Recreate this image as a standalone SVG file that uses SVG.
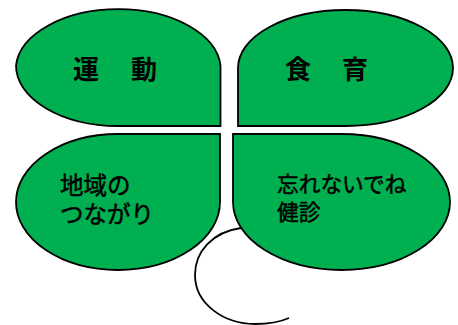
<svg xmlns="http://www.w3.org/2000/svg" width="458" height="325" viewBox="0 0 458 325">
<style>
.leaf{fill:#00b050;stroke:#000;stroke-width:1.8}
.stem{fill:none;stroke:#000;stroke-width:1.8}
text{font-family:"Liberation Sans","Noto Sans CJK JP",sans-serif;fill:#000}
.big{font-size:26px;font-weight:700}
.mid{font-size:23.500px;stroke:#000;stroke-width:.5}
.small{font-size:21.700px;stroke:#000;stroke-width:.5}
</style>
<g id="connectors">
<path class="stem" d="M241,228 C212,232 195,252 195,275 C195,304 224,324 255,324 C268,324 280,322 289,318"/>
</g>
<g id="node-undou">
<path class="leaf" d="M220.500,126 V65.500 A102.500,60.500 0 0 0 16,65.500 A102.500,60.500 0 0 0 118,126 Z"/>
<text class="big" x="73 102 131" y="79">運　動</text>
</g>
<g id="node-shokuiku">
<path class="leaf" d="M238,126 V68 A107.500,58 0 0 1 453,68 A107.500,58 0 0 1 345.500,126 Z"/>
<text class="big" x="285 314 342" y="79">食　育</text>
</g>
<g id="node-chiiki">
<path class="leaf" d="M220,134 V202 A102,68 0 0 1 16,202 A102,68 0 0 1 118,134 Z"/>
<text class="mid" x="60" y="194">地域の</text>
<text class="mid" x="60" y="223">つながり</text>
</g>
<g id="node-kenshin">
<path class="leaf" d="M233,134 H341.500 A108.500,68 0 0 1 341.500,270 A108.500,68 0 0 1 233,202 Z"/>
<text class="small" x="277" y="192">忘れないでね</text>
<text class="small" x="277" y="220">健診</text>
</g>
</svg>
